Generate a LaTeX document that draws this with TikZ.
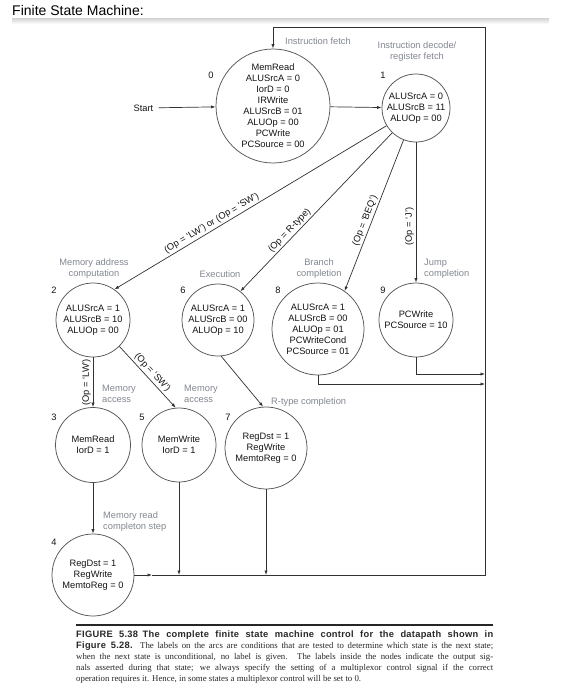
\documentclass[tikz,border=0pt]{standalone}
\usepackage{fontspec}
\setmainfont{Liberation Sans}
\newfontfamily\capserif{Liberation Serif}
\newfontfamily\capsans[LetterSpace=3]{Liberation Sans}
\usetikzlibrary{arrows.meta}
\definecolor{ln}{RGB}{50,50,50}
\definecolor{cir}{RGB}{85,85,85}
\definecolor{lbl}{RGB}{130,135,145}
\definecolor{txt}{RGB}{20,20,20}
\definecolor{captxt}{RGB}{40,40,40}
\begin{document}
\begin{tikzpicture}[x=1pt,y=-1pt,
  st/.style={circle,draw=cir,line width=0.75pt,minimum size=#1,inner sep=0pt,
    align=center,font=\fontsize{9.3}{11}\selectfont,text=txt},
  num/.style={font=\fontsize{9.3}{11}\selectfont,text=txt,inner sep=0pt},
  lab/.style={font=\fontsize{9.3}{11}\selectfont,text=lbl,inner sep=0pt},
  elab/.style={font=\fontsize{9.3}{11}\selectfont,text=txt,inner sep=1.8pt},
  arr/.style={draw=ln,line width=0.7pt,-{Latex[length=4.5pt,width=3.2pt]}},
  captext/.style={inner sep=0pt,anchor=base west,text=captxt,font=\capserif\fontsize{8.8}{10.9}\selectfont}
]
\useasboundingbox (0,0) rectangle (574,696);
\fill[white] (0,0) rectangle (574,696);

% title and separator
\node[anchor=west,inner sep=0pt,font=\fontsize{14}{16}\selectfont,text=black] (title) at (12,10) {Finite State Machine:};
\shade[top color=gray!35,bottom color=white] (12,18) rectangle (549,24);

% states
\node[st=114pt] (s0) at (273,106) {MemRead\\ALUSrcA = 0\\IorD = 0\\IRWrite\\ALUSrcB = 01\\ALUOp = 00\\PCWrite\\PCSource = 00};
\node[st=68pt] (s1) at (416,108) {ALUSrcA = 0\\ALUSrcB = 11\\ALUOp = 00};
\node[st=74pt] (s2) at (93,320) {ALUSrcA = 1\\ALUSrcB = 10\\ALUOp = 00};
\node[st=72pt] (s6) at (218,320) {ALUSrcA = 1\\ALUSrcB = 00\\ALUOp = 10};
\node[st=92pt] (s8) at (318,329) {ALUSrcA = 1\\ALUSrcB = 00\\ALUOp = 01\\PCWriteCond\\PCSource = 01};
\node[st=74pt] (s9) at (416,320) {PCWrite\\PCSource = 10};
\node[st=75pt] (s3) at (93,445) {MemRead\\IorD = 1};
\node[st=74pt] (s5) at (179,445) {MemWrite\\IorD = 1};
\node[st=82pt] (s7) at (266,448) {RegDst = 1\\RegWrite\\MemtoReg = 0};
\node[st=82pt] (s4) at (93,575) {RegDst = 1\\RegWrite\\MemtoReg = 0};

% state numbers
\node[num] (n0) at (211,75) {0};
\node[num] (n1) at (383,75) {1};
\node[num] (n2) at (54,290) {2};
\node[num] (n6) at (183,290) {6};
\node[num] (n8) at (278,290) {8};
\node[num] (n9) at (383,290) {9};
\node[num] (n3) at (54,417) {3};
\node[num] (n5) at (142,417) {5};
\node[num] (n7) at (228,417) {7};
\node[num] (n4) at (54,542) {4};

% stage labels
\node[lab] (l0) at (318,41) {Instruction fetch};
\node[lab,align=center] (l1) at (417,51.5) {Instruction decode/\\register fetch};
\node[lab,align=center] (l2) at (94,268.5) {Memory address\\computation};
\node[lab] (l6) at (220,274) {Execution};
\node[lab,align=center] (l8) at (319,268.5) {Branch\\completion};
\node[lab,align=left,anchor=west] (l9) at (424,268.5) {Jump\\completion};
\node[lab,align=left,anchor=west] (l3) at (102,394) {Memory\\access};
\node[lab,align=left,anchor=west] (l5) at (184,394) {Memory\\access};
\node[lab,anchor=west] (l7) at (271,402) {R-type completion};
\node[lab,align=left,anchor=west] (l4) at (103,521.5) {Memory read\\completon step};

% start
\node[num] (start) at (143.5,108) {Start};
\draw[arr,shorten <=5pt] (start) -- (s0);

% connectors
\draw[arr] (s0) -- (s1);
\draw[arr] (s1) -- node[elab,sloped,above,pos=0.63]{(Op = ‘LW’) or (Op = ‘SW’)} (s2.55);
\draw[arr] (s1) -- node[elab,sloped,above,pos=0.645]{(Op = R-type)} (s6.52);
\draw[arr] (s1) -- node[elab,sloped,above,pos=0.55]{(Op = ‘BEQ’)} (s8.55);
\draw[arr] (s1.south) -- node[elab,rotate=90,anchor=south,pos=0.6]{(Op = ‘J’)} (s9.north);

\draw[arr] (s2.south) -- node[elab,rotate=90,anchor=south,pos=0.5]{(Op = ‘LW’)} (s3.north);
\draw[arr] (s2.-45) -- node[elab,sloped,above,pos=0.5]{(Op = ‘SW’)} (s5.95);
\draw[arr] (s6.-85) -- (s7.94);
\draw[arr] (s3.south) -- (s4.north);

\coordinate (r9) at (485,374);
\coordinate (r8) at (485,384);
\coordinate (rb) at (485,575);
\coordinate (rt) at (485,27);
\coordinate (m4) at (152,575);
\draw[arr] (s9.south) |- (r9);
\draw[arr] (s8.south) |- (r8);
\draw[arr] (s4.east) -- (m4);
\draw[arr] (m4) -- (rb) -- (rt) -| (s0.north);
\draw[arr] (s5.south) -- (s5.south |- rb);
\draw[arr] (s7.south) -- (s7.south |- rb);

% caption
\draw[line width=1.6pt,black!85] (76,625) -- (493,625);
\node[captext] (c1) at (76,637.5) {\makebox[417pt][s]{\capsans\bfseries\fontsize{9.3}{10.9}\selectfont FIGURE 5.38\enspace The complete finite state machine control for the datapath shown in}};
\node[captext] (c2) at (76,648.4) {\makebox[417pt][s]{{\capsans\bfseries\fontsize{9.3}{10.9}\selectfont Figure 5.28.} The labels on the arcs are conditions that are tested to determine which state is the next state;}};
\node[captext] (c3) at (76,659.3) {\makebox[417pt][s]{when the next state is unconditional, no label is given. The labels inside the nodes indicate the output sig-}};
\node[captext] (c4) at (76,670.2) {\makebox[417pt][s]{nals asserted during that state; we always specify the setting of a multiplexor control signal if the correct}};
\node[captext] (c5) at (76,681.1) {operation requires it. Hence, in some states a multiplexor control will be set to 0.};
\end{tikzpicture}
\end{document}
